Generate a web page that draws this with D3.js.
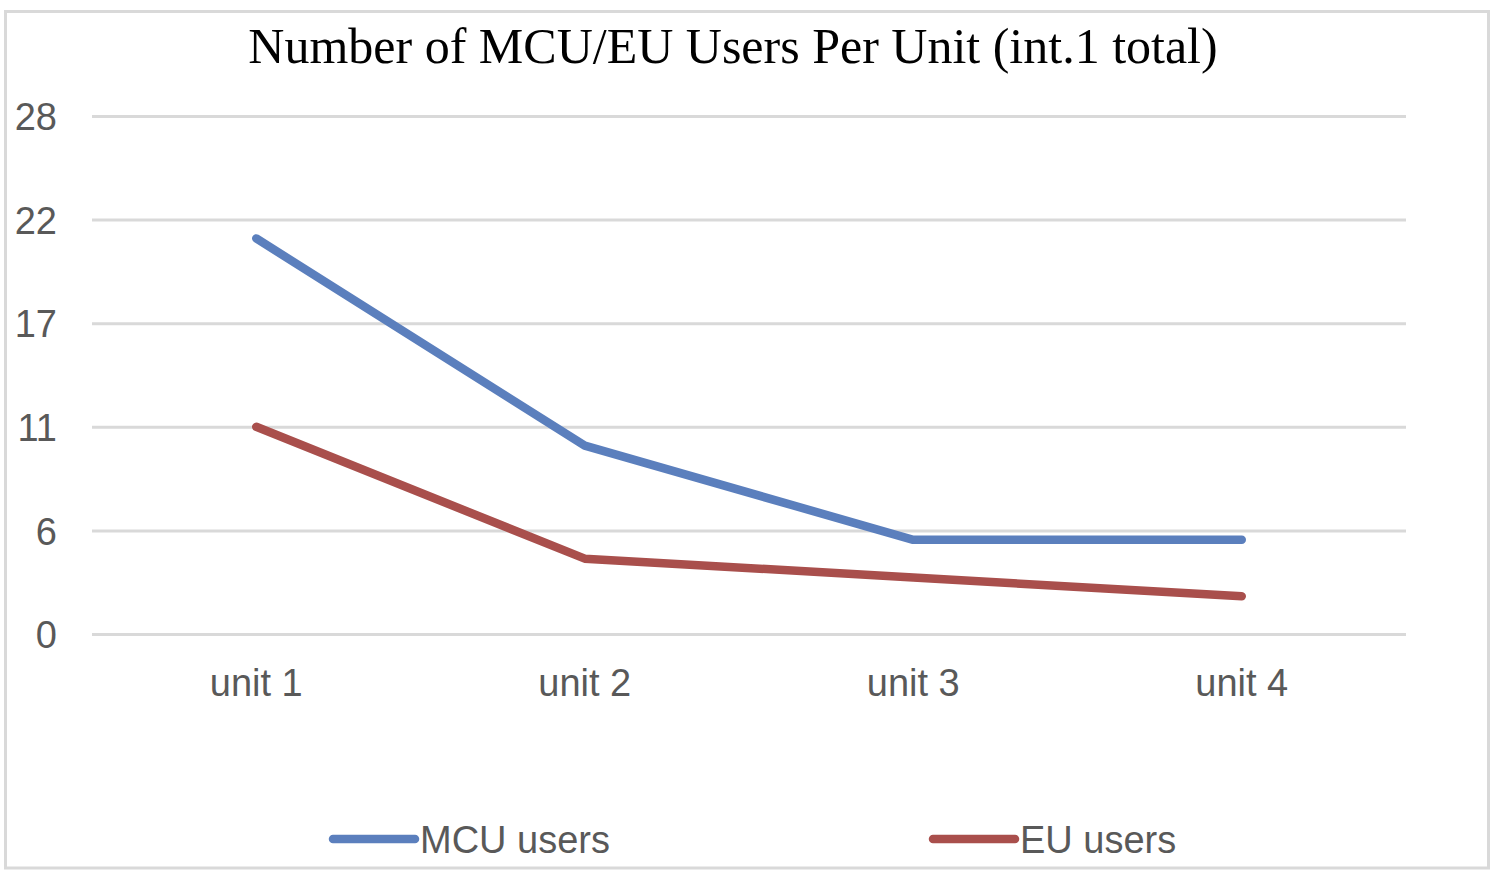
<!DOCTYPE html>
<html><head><meta charset="utf-8">
<script src="https://cdn.jsdelivr.net/npm/d3@7"></script>
<style>body{margin:0;background:#fff}svg{display:block}</style>
</head><body><svg id="c" width="1500" height="879"></svg>
<script>
const title = "Number of MCU/EU Users Per Unit (int.1 total)";
const categories = ["unit 1", "unit 2", "unit 3", "unit 4"];
const mcuUsers = [21, 10, 5, 5];
const euUsers = [11, 4, 3, 2];
const seriesNames = ["MCU users", "EU users"];
const seriesColors = ["#5b7fbd", "#a94f4c"];
const yTicks = [0, 5.5, 11, 16.5, 22, 27.5];
const yTickLabels = ["0", "6", "11", "17", "22", "28"];

const svg = d3.select("#c");
const W = 1500, H = 879;
const plot = {left: 92, right: 1406, top: 116, bottom: 634};
const labelFont = "'Liberation Sans', Arial, Helvetica, sans-serif";
const textGrey = "#595959";
const labelSize = 38;

svg.append("rect").attr("width", W).attr("height", H).attr("fill", "#fff");
svg.append("rect").attr("x", 5.5).attr("y", 11.5).attr("width", 1483).attr("height", 856.5)
  .attr("fill", "none").attr("stroke", "#d9d9d9").attr("stroke-width", 3);

svg.append("text").attr("x", 733).attr("y", 63).attr("text-anchor", "middle")
  .attr("font-family", "'Liberation Serif', 'Times New Roman', serif").attr("font-size", 50)
  .attr("fill", "#000").text(title);

const x = d3.scaleBand().domain(categories).range([plot.left, plot.right]);
const y = d3.scaleLinear().domain([0, 27.5]).range([plot.bottom, plot.top]);

// y axis with gridlines
const yAxis = d3.axisLeft(y).tickValues(yTicks)
  .tickSize(-(plot.right - plot.left)).tickPadding(35)
  .tickFormat((d, i) => yTickLabels[i]);
const gy = svg.append("g").attr("transform", `translate(${plot.left},0)`).call(yAxis);
gy.select(".domain").remove();
gy.selectAll(".tick line").attr("stroke", "#d9d9d9").attr("stroke-width", 3);
gy.selectAll(".tick text").attr("font-family", labelFont).attr("font-size", labelSize)
  .attr("fill", textGrey).attr("dy", "0.36em");

// x axis labels
const xAxis = d3.axisBottom(x).tickSize(0).tickPadding(0);
const gx = svg.append("g").attr("transform", `translate(0,${plot.bottom})`).call(xAxis);
gx.select(".domain").remove();
gx.selectAll(".tick text").attr("font-family", labelFont).attr("font-size", labelSize)
  .attr("fill", textGrey).attr("dy", null).attr("y", 62);

const series = [mcuUsers, euUsers];
const line = d3.line().x((d, i) => x(categories[i]) + x.bandwidth() / 2).y(d => y(d));
series.forEach((vals, k) => {
  svg.append("path").datum(vals).attr("d", line).attr("fill", "none")
    .attr("stroke", seriesColors[k]).attr("stroke-width", 8.5)
    .attr("stroke-linecap", "round").attr("stroke-linejoin", "round");
});

// legend
const legendX = [333, 933];
seriesNames.forEach((name, k) => {
  const g = svg.append("g").attr("transform", `translate(${legendX[k]},839)`);
  g.append("line").attr("x1", 0).attr("x2", 82).attr("y1", 0).attr("y2", 0)
    .attr("stroke", seriesColors[k]).attr("stroke-width", 8.5).attr("stroke-linecap", "round");
  g.append("text").attr("x", 87).attr("y", 14).attr("font-family", labelFont)
    .attr("font-size", labelSize).attr("fill", textGrey).text(name);
});
</script></body></html>
